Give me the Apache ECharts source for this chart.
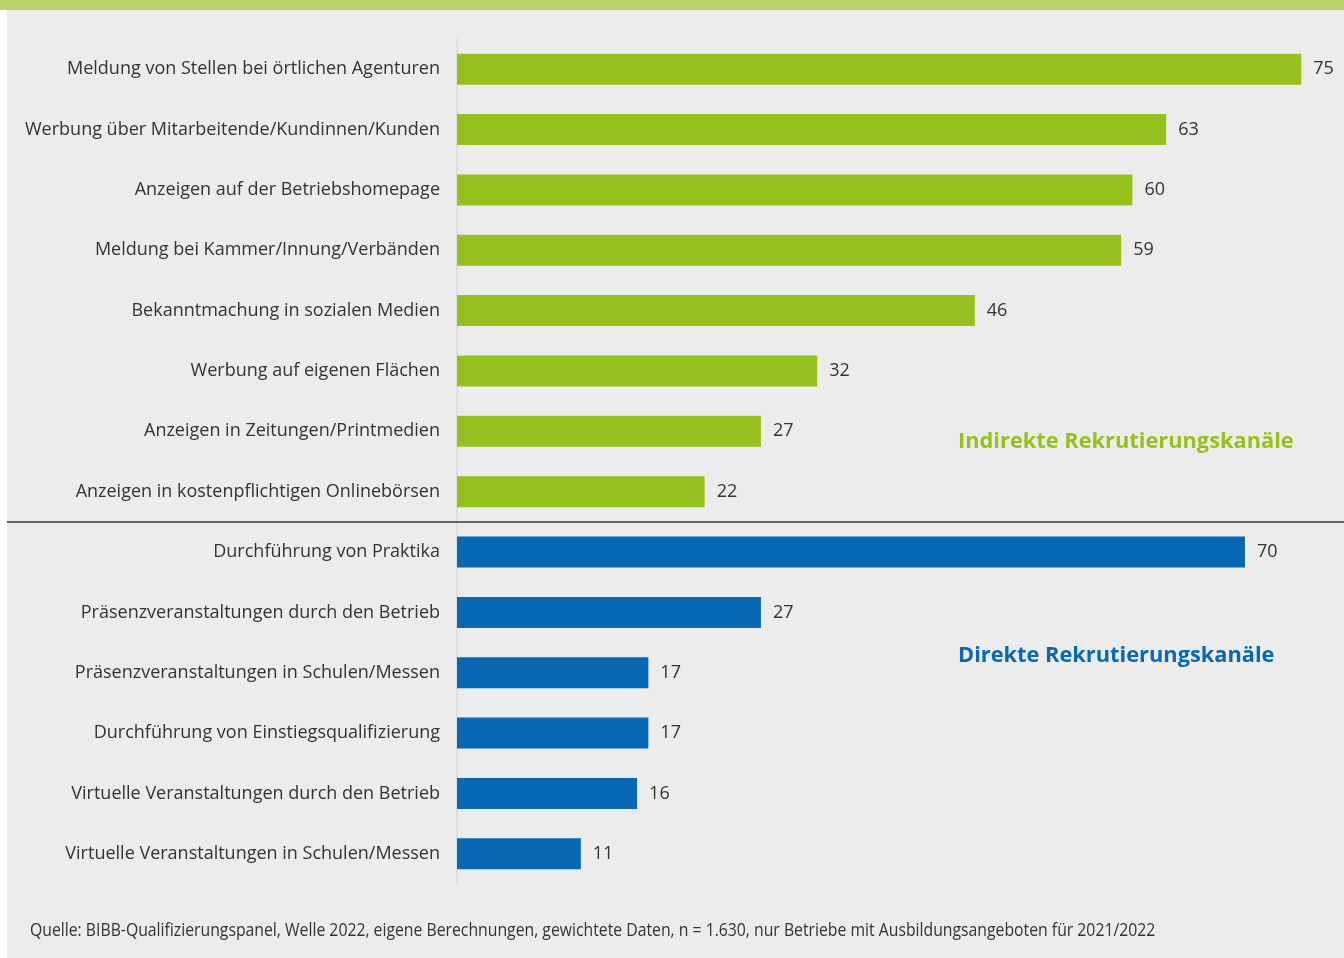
<!DOCTYPE html>
<html>
<head>
<meta charset="utf-8">
<script src="https://cdn.jsdelivr.net/npm/echarts@6/dist/echarts.min.js"></script>
<style>
  html, body { margin: 0; padding: 0; background: #fff; }
  #chart { width: 1344px; height: 958px; }
</style>
</head>
<body>
<div id="chart"></div>
<script>
// Kanäle (von oben nach unten)
const categories = [
  "Meldung von Stellen bei örtlichen Agenturen",
  "Werbung über Mitarbeitende/Kundinnen/Kunden",
  "Anzeigen auf der Betriebshomepage",
  "Meldung bei Kammer/Innung/Verbänden",
  "Bekanntmachung in sozialen Medien",
  "Werbung auf eigenen Flächen",
  "Anzeigen in Zeitungen/Printmedien",
  "Anzeigen in kostenpflichtigen Onlinebörsen",
  "Durchführung von Praktika",
  "Präsenzveranstaltungen durch den Betrieb",
  "Präsenzveranstaltungen in Schulen/Messen",
  "Durchführung von Einstiegsqualifizierung",
  "Virtuelle Veranstaltungen durch den Betrieb",
  "Virtuelle Veranstaltungen in Schulen/Messen"
];
const values = [75, 63, 60, 59, 46, 32, 27, 22, 70, 27, 17, 17, 16, 11];
// Gruppe je Kanal: indirekt / direkt
const groups = ["ind", "ind", "ind", "ind", "ind", "ind", "ind", "ind",
                "dir", "dir", "dir", "dir", "dir", "dir"];
const groupTitles = ["Indirekte Rekrutierungskanäle", "Direkte Rekrutierungskanäle"];
const source = "Quelle: BIBB-Qualifizierungspanel, Welle 2022, eigene Berechnungen, gewichtete Daten, n = 1.630, nur Betriebe mit Ausbildungsangeboten für 2021/2022";

const green = "#95c11f";
const blue = "#0868b3";
const font = "'Open Sans', 'Noto Sans', sans-serif";

const chart = echarts.init(document.getElementById("chart"));

const barData = values.map((v, i) => ({
  value: v,
  itemStyle: { color: groups[i] === "ind" ? green : blue }
}));

const option = {
  backgroundColor: "#fff",
  animation: false,
  grid: { left: 457, right: 9, top: 39, height: 845 },
  xAxis: {
    type: "value",
    min: 0,
    max: 78,
    show: false
  },
  yAxis: {
    type: "category",
    data: categories,
    inverse: true,
    axisLine: { show: true, lineStyle: { color: "#dadada", width: 1.5 } },
    axisTick: { show: false },
    axisLabel: {
      margin: 17,
      padding: [4, 0, 0, 0],
      color: "#333",
      fontSize: 18,
      fontFamily: font
    }
  },
  graphic: [
    { type: "rect", z: -10, shape: { x: 7, y: 9, width: 1337, height: 949 }, style: { fill: "#ececec" } },
    { type: "rect", z: -10, shape: { x: 0, y: 0, width: 1344, height: 10 }, style: { fill: "#b9d46c" } },
    { type: "line", z: 10, shape: { x1: 7, y1: 522, x2: 1344, y2: 522 }, style: { stroke: "#3a3a3a", lineWidth: 1.5 } },
    { type: "text", left: 958, top: 431, style: { text: groupTitles[0], fill: green, font: "bold 21.8px " + font } },
    { type: "text", left: 958, top: 645, style: { text: groupTitles[1], fill: blue, font: "bold 21.8px " + font } },
    { type: "text", x: 30, y: 921, scaleX: 0.83, style: { text: source, fill: "#333", font: "19px 'Open Sans', sans-serif" } }
  ],
  series: [{
    type: "bar",
    data: barData,
    barWidth: 31,
    label: {
      show: true,
      position: "right",
      distance: 12,
      padding: [4, 0, 0, 0],
      color: "#333",
      fontSize: 18,
      fontFamily: font
    }
  }]
};

chart.setOption(option);
window.addEventListener("resize", () => chart.resize());
</script>
</body>
</html>
